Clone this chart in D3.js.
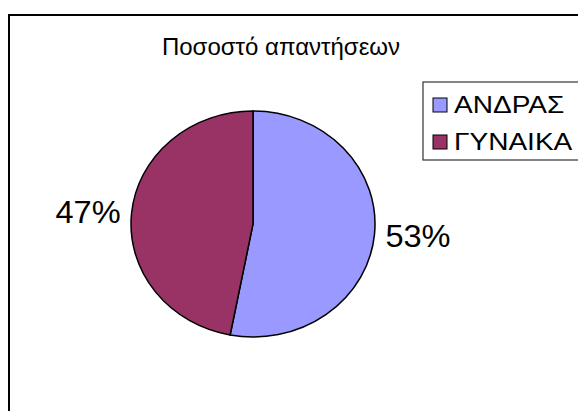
<!DOCTYPE html>
<html>
<head>
<meta charset="utf-8">
<script src="https://cdn.jsdelivr.net/npm/d3@7"></script>
<style>
  body { margin: 0; background: #fff; }
  text { font-family: "Liberation Sans", Arial, sans-serif; fill: #000; }
</style>
</head>
<body>
<div id="chart"></div>
<script>
// Data
var categories = ["ΑΝΔΡΑΣ", "ΓΥΝΑΙΚΑ"];
var values = [53, 47];
var colors = ["#9999ff", "#993366"];
var title = "Ποσοστό απαντήσεων";

var width = 578, height = 411;

var svg = d3.select("#chart")
    .append("svg")
    .attr("width", width)
    .attr("height", height);

// Chart area frame (runs off the right and bottom edges)
svg.append("rect")
    .attr("x", 9).attr("y", 15)
    .attr("width", 620).attr("height", 450)
    .attr("fill", "#fff")
    .attr("stroke", "#000")
    .attr("stroke-width", 2);

// Title
svg.append("text")
    .attr("x", 281).attr("y", 55)
    .attr("text-anchor", "middle")
    .style("font-size", "24px")
    .text(title);

// Pie (drawn as a slightly wide ellipse)
var cx = 253, cy = 224, rx = 122, ry = 113;

var data = categories.map((c, i) => ({name: c, value: values[i], color: colors[i]}));

var pie = d3.pie()
    .sort(null)
    .value(d => d.value);

var arc = d3.arc()
    .innerRadius(0)
    .outerRadius(ry);

var arcs = pie(data);

var g = svg.append("g")
    .attr("transform", "translate(" + cx + "," + cy + ") scale(" + (rx / ry) + ",1)");

g.selectAll("path")
    .data(arcs)
    .enter().append("path")
    .attr("d", arc)
    .attr("fill", d => d.data.color)
    .attr("stroke", "#000")
    .attr("stroke-width", 1.4);

// Percentage labels outside the pie
var total = d3.sum(values);
svg.selectAll(".label")
    .data(arcs)
    .enter().append("text")
    .attr("class", "label")
    .each(function(d) {
        var a = (d.startAngle + d.endAngle) / 2;
        var x = cx + (rx + 11) * Math.sin(a);
        var y = cy - (ry + 11) * Math.cos(a);
        d3.select(this)
            .attr("x", x)
            .attr("y", y)
            .attr("dy", "0.36em")
            .attr("text-anchor", Math.sin(a) >= 0 ? "start" : "end");
    })
    .style("font-size", "31px")
    .attr("transform", function(d) {
        var x = +d3.select(this).attr("x");
        return "translate(" + x + ",0) scale(1.05,1) translate(" + (-x) + ",0)";
    })
    .text(d => Math.round(d.data.value / total * 100) + "%");

// Legend
var legend = svg.append("g");

legend.append("rect")
    .attr("x", 423).attr("y", 82)
    .attr("width", 200).attr("height", 78)
    .attr("fill", "#fff")
    .attr("stroke", "#333")
    .attr("stroke-width", 1.2);

var item = legend.selectAll(".item")
    .data(data)
    .enter().append("g")
    .attr("class", "item")
    .attr("transform", (d, i) => "translate(433," + (98 + i * 37) + ")");

item.append("rect")
    .attr("width", 14).attr("height", 14)
    .attr("fill", d => d.color)
    .attr("stroke", "#000")
    .attr("stroke-width", 1);

item.append("text")
    .attr("transform", "translate(21,15) scale(1.22,1)")
    .style("font-size", "23px")
    .text(d => d.name);
</script>
</body>
</html>
